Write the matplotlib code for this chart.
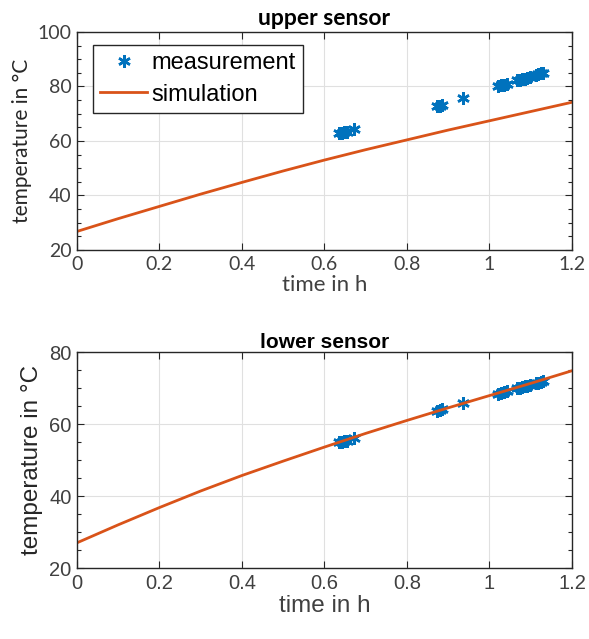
import matplotlib
matplotlib.use("Agg")
import matplotlib.pyplot as plt
import numpy as np
from matplotlib.ticker import MultipleLocator

plt.rcParams['font.family'] = ['Lato', 'DejaVu Sans']

# measurement times (h) and temperatures (degC)
t_meas = [0.636, 0.642, 0.648, 0.654, 0.672, 0.873, 0.880, 0.886, 0.937,
          1.021, 1.028, 1.035, 1.042, 1.067, 1.074, 1.080, 1.086, 1.092,
          1.098, 1.112, 1.118, 1.124, 1.130]
upper_meas = [63.0, 63.1, 63.2, 63.3, 64.3, 72.8, 73.0, 73.2, 75.9,
              80.2, 80.4, 80.6, 80.9, 82.2, 82.5, 82.7, 82.9, 83.1,
              83.4, 84.3, 84.5, 84.8, 85.0]
lower_meas = [55.0, 55.1, 55.3, 55.4, 56.0, 63.7, 63.9, 64.1, 65.9,
              68.4, 68.6, 68.8, 69.1, 69.9, 70.1, 70.3, 70.5, 70.7,
              70.9, 71.3, 71.5, 71.7, 71.9]

# simulation
t_sim = [0.0, 0.1, 0.2, 0.3, 0.4, 0.5, 0.6, 0.7, 0.8, 0.9, 1.0, 1.1, 1.2]
upper_sim = [26.8, 31.5, 36.0, 40.5, 44.8, 49.0, 53.0, 56.8, 60.4, 64.0, 67.4, 70.8, 74.2]
lower_sim = [27.0, 32.0, 36.8, 41.4, 45.7, 49.7, 53.6, 57.4, 61.0, 64.5, 67.9, 71.3, 74.8]

xticks = [0, 0.2, 0.4, 0.6, 0.8, 1.0, 1.2]
xticklabels = ['0', '0.2', '0.4', '0.6', '0.8', '1', '1.2']

blue = '#0072BD'
orange = '#D95319'
asterisk = (6, 2, 0)
lato = ['Lato', 'DejaVu Sans']
arial = ['Liberation Sans', 'DejaVu Sans']

fig = plt.figure(figsize=(5.89, 6.39), dpi=100)
ax1 = fig.add_axes([0.1307, 0.6088, 0.8404, 0.3412])
ax2 = fig.add_axes([0.1307, 0.1111, 0.8404, 0.3380])

def style(ax, ylim, title, fam, ticksize, xlabsize, ylabsize, titlesize, titlepad):
    ax.set_xlim(0, 1.2)
    ax.set_ylim(*ylim)
    ax.yaxis.set_major_locator(MultipleLocator(20))
    ax.yaxis.set_minor_locator(MultipleLocator(5))
    ax.set_xticks(xticks)
    ax.set_xticklabels(xticklabels)
    for lab in ax.get_xticklabels() + ax.get_yticklabels():
        lab.set_family(fam)
    ax.tick_params(which='both', direction='in', top=True, right=True,
                   labelsize=ticksize, colors='#262626', labelcolor='#404040',
                   pad=4)
    ax.tick_params(which='major', length=5, width=0.8)
    ax.tick_params(which='minor', length=3, width=0.8)
    ax.grid(True, which='major', color='#e0e0e0', linewidth=0.8)
    ax.set_axisbelow(True)
    for s in ax.spines.values():
        s.set_color('#262626')
        s.set_linewidth(1.0)
    ax.set_xlabel('time in h', fontsize=xlabsize, color='#404040',
                  labelpad=2, family=fam)
    ax.set_ylabel('temperature in °C', fontsize=ylabsize, color='#262626',
                  labelpad=4, family=fam)
    ax.set_title(title, fontsize=titlesize, fontweight='bold', pad=titlepad,
                 family=fam)

ax1.plot(t_meas, upper_meas, linestyle='none', marker=asterisk, color=blue,
         markersize=9, markeredgewidth=1.8, label='measurement')
ax1.plot(t_sim, upper_sim, '-', color=orange, linewidth=2, label='simulation')
style(ax1, (20, 100), 'upper sensor', lato, 14, 16, 15, 16.5, 5)
leg = ax1.legend(loc='upper left', bbox_to_anchor=(0.032, 0.94),
                 borderaxespad=0, fancybox=False, framealpha=1,
                 edgecolor='#262626', borderpad=0.3, handlelength=2.0,
                 handletextpad=0.2, labelspacing=0.4,
                 prop={'family': arial, 'size': 17})
leg.get_frame().set_linewidth(1.0)

ax2.plot(t_meas, lower_meas, linestyle='none', marker=asterisk, color=blue,
         markersize=9, markeredgewidth=1.8)
ax2.plot(t_sim, lower_sim, '-', color=orange, linewidth=2)
style(ax2, (20, 80), 'lower sensor', arial, 14.5, 17.5, 17.5, 15, 3)

fig.savefig('out.png', dpi=100)
